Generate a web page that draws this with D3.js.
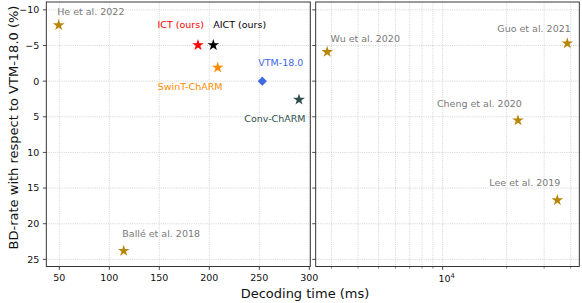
<!DOCTYPE html>
<html>
<head>
<meta charset="utf-8">
<script src="https://cdnjs.cloudflare.com/ajax/libs/d3/7.8.5/d3.min.js"></script>
<style>
  body { margin: 0; background: #fff; }
  text { font-family: "DejaVu Sans", sans-serif; }
</style>
</head>
<body>
<div id="chart"></div>
<script>
// ---- data ----
var leftNames = ["He et al. 2022", "ICT (ours)", "AICT (ours)", "SwinT-ChARM", "VTM-18.0", "Conv-ChARM", "Ballé et al. 2018"];
var leftTimes = [49.4, 188.7, 204, 208.4, 253, 289.7, 114.4];
var leftBD = [-7.85, -5.05, -5.05, -1.9, 0, 2.6, 23.8];

var rightNames = ["Wu et al. 2020", "Guo et al. 2021", "Cheng et al. 2020", "Lee et al. 2019"];
var rightTimes = [2865, 38550, 22600, 34600];
var rightBD = [-4.1, -5.3, 5.5, 16.7];

var leftXTicks = [50, 100, 150, 200, 250, 300];
var rightXMinor = [3000, 4000, 5000, 6000, 7000, 8000, 9000, 20000, 30000, 40000];
var rightXMajor = [10000];
var yTicks = [-10, -5, 0, 5, 10, 15, 20, 25];

(function() {

// ---- styles ----
var markerColor = {
  "ICT (ours)": "red", "AICT (ours)": "black", "SwinT-ChARM": "darkorange",
  "VTM-18.0": "royalblue", "Conv-ChARM": "darkslategray"
};
var textColor = {
  "ICT (ours)": "red", "AICT (ours)": "black", "SwinT-ChARM": "darkorange",
  "VTM-18.0": "royalblue", "Conv-ChARM": "darkslategray"
};
// label offset from marker (px): dx to text start, dy to baseline
var labelOffset = {
  "He et al. 2022": [-1.5, -10], "ICT (ours)": [-40.5, -17.5], "AICT (ours)": [0, -17.5],
  "SwinT-ChARM": [-60, 22.4], "VTM-18.0": [-4, -14.7], "Conv-ChARM": [-54.7, 22],
  "Ballé et al. 2018": [-1.4, -13.4], "Wu et al. 2020": [3.4, -10], "Guo et al. 2021": [-70, -11.6],
  "Cheng et al. 2020": [-81, -13.3], "Lee et al. 2019": [-68, -13.7]
};

var W = 582, H = 303;
var plotTop = 2, plotBottom = 266.5;
var fs = 9.5;

var svg = d3.select("#chart").append("svg")
    .attr("width", W)
    .attr("height", H);

var y = d3.scaleLinear()
    .domain([-11.1, 26])
    .range([plotTop, plotBottom]);

var xL = d3.scaleLinear()
    .domain([37, 301])
    .range([46.3, 310.3]);

var xR = d3.scaleLog()
    .domain([2530, 43900])
    .range([315.7, 579.3]);

var gridStyle = function(sel) {
  sel.attr("stroke", "#c8c8c8")
     .attr("stroke-width", 0.8)
     .attr("stroke-dasharray", "1,1.2");
};

function drawPanel(x, vGrid) {
  var g = svg.append("g");
  var x0 = x.range()[0], x1 = x.range()[1];

  g.selectAll(".vgrid").data(vGrid).enter().append("line")
      .attr("x1", function(d) { return x(d); })
      .attr("x2", function(d) { return x(d); })
      .attr("y1", plotTop).attr("y2", plotBottom)
      .call(gridStyle);

  g.selectAll(".hgrid").data(yTicks).enter().append("line")
      .attr("x1", x0).attr("x2", x1)
      .attr("y1", function(d) { return y(d); })
      .attr("y2", function(d) { return y(d); })
      .call(gridStyle);

  // y ticks (outward)
  g.selectAll(".ytick").data(yTicks).enter().append("line")
      .attr("x1", x0 - 3.5).attr("x2", x0)
      .attr("y1", function(d) { return y(d); })
      .attr("y2", function(d) { return y(d); })
      .attr("stroke", "#222").attr("stroke-width", 0.8);

  return g;
}

var gL = drawPanel(xL, leftXTicks);
var gR = drawPanel(xR, rightXMinor.concat(rightXMajor));

// y tick labels, left panel only
gL.selectAll(".ylab").data(yTicks).enter().append("text")
    .attr("x", 46.3 - 7)
    .attr("y", function(d) { return y(d) + 3.4; })
    .attr("text-anchor", "end")
    .attr("font-size", fs)
    .attr("fill", "#111")
    .text(function(d) { return d < 0 ? "\u2212" + Math.abs(d) : d; });

// x ticks left
gL.selectAll(".xtick").data(leftXTicks).enter().append("line")
    .attr("x1", function(d) { return xL(d); })
    .attr("x2", function(d) { return xL(d); })
    .attr("y1", plotBottom).attr("y2", plotBottom + 3.5)
    .attr("stroke", "#222").attr("stroke-width", 0.8);

gL.selectAll(".xlab").data(leftXTicks).enter().append("text")
    .attr("x", function(d) { return xL(d); })
    .attr("y", plotBottom + 14)
    .attr("text-anchor", "middle")
    .attr("font-size", fs)
    .attr("fill", "#111")
    .text(function(d) { return d; });

// x ticks right (log)
gR.selectAll(".xminor").data(rightXMinor).enter().append("line")
    .attr("x1", function(d) { return xR(d); })
    .attr("x2", function(d) { return xR(d); })
    .attr("y1", plotBottom).attr("y2", plotBottom + 2)
    .attr("stroke", "#222").attr("stroke-width", 0.6);

gR.selectAll(".xmajor").data(rightXMajor).enter().append("line")
    .attr("x1", function(d) { return xR(d); })
    .attr("x2", function(d) { return xR(d); })
    .attr("y1", plotBottom).attr("y2", plotBottom + 3.5)
    .attr("stroke", "#222").attr("stroke-width", 0.8);

var majLab = gR.selectAll(".xmlab").data(rightXMajor).enter().append("text")
    .attr("x", function(d) { return xR(d) + 4; })
    .attr("y", plotBottom + 15)
    .attr("text-anchor", "middle")
    .attr("font-size", fs)
    .attr("fill", "#111");
majLab.append("tspan").text("10");
majLab.append("tspan")
    .attr("font-size", 6.7)
    .attr("dy", -4)
    .text(function(d) { return Math.round(Math.log10(d)); });

// frames
[xL, xR].forEach(function(x) {
  svg.append("rect")
      .attr("x", x.range()[0])
      .attr("y", plotTop)
      .attr("width", x.range()[1] - x.range()[0])
      .attr("height", plotBottom - plotTop)
      .attr("fill", "none")
      .attr("stroke", "#222")
      .attr("stroke-width", 0.9);
});

// points
var star = d3.symbol().type(d3.symbolStar).size(42);
var diamond = d3.symbol().type(d3.symbolSquare).size(42);

function drawPoints(g, x, names, times, bd) {
  var data = names.map(function(n, i) { return {name: n, t: times[i], v: bd[i]}; });

  g.selectAll(".pt").data(data).enter().append("path")
      .attr("d", function(d) { return d.name === "VTM-18.0" ? diamond() : star(); })
      .attr("transform", function(d) {
        var tr = "translate(" + x(d.t) + "," + y(d.v) + ")";
        return d.name === "VTM-18.0" ? tr + " rotate(45)" : tr;
      })
      .attr("fill", function(d) { return markerColor[d.name] || "darkgoldenrod"; });

  g.selectAll(".lbl").data(data).enter().append("text")
      .attr("x", function(d) { return x(d.t) + labelOffset[d.name][0]; })
      .attr("y", function(d) { return y(d.v) + labelOffset[d.name][1]; })
      .attr("font-size", fs)
      .attr("fill", function(d) { return textColor[d.name] || "#7a7a7a"; })
      .text(function(d) { return d.name; });
}

drawPoints(gL, xL, leftNames, leftTimes, leftBD);
drawPoints(gR, xR, rightNames, rightTimes, rightBD);

// axis titles
svg.append("text")
    .attr("x", 305)
    .attr("y", 298)
    .attr("text-anchor", "middle")
    .attr("font-size", 13)
    .attr("fill", "#111")
    .text("Decoding time (ms)");

svg.append("text")
    .attr("transform", "translate(18,127.5) rotate(-90)")
    .attr("text-anchor", "middle")
    .attr("font-size", 13)
    .attr("fill", "#111")
    .text("BD-rate with respect to VTM-18.0 (%)");

})();
</script>
</body>
</html>
